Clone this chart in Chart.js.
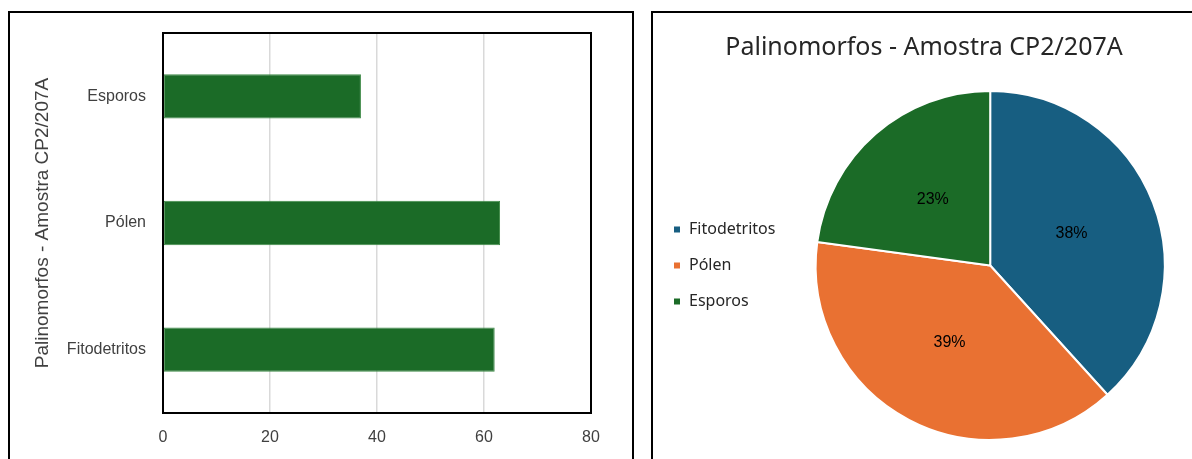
<!DOCTYPE html>
<html lang="pt">
<head>
<meta charset="utf-8">
<title>Palinomorfos - Amostra CP2/207A</title>
<script src="https://cdn.jsdelivr.net/npm/chart.js@4/dist/chart.umd.min.js"></script>
<style>
  html, body { margin: 0; padding: 0; background: #fff; overflow: hidden; }
  body { width: 1192px; height: 459px; position: relative; }
  .panel { position: absolute; border: 2px solid #000; background: #fff; }
  #leftPanel { left: 8px; top: 11px; width: 622px; height: 470px; }
  #rightPanel { left: 651px; top: 11px; width: 560px; height: 470px; }
  .box { position: absolute; left: 0; top: 0; }
  #barBox { width: 622px; height: 446px; }
  #pieBox { width: 542px; height: 446px; }
</style>
</head>
<body>
<div class="panel" id="leftPanel"><div class="box" id="barBox"><canvas id="barChart"></canvas></div></div>
<div class="panel" id="rightPanel"><div class="box" id="pieBox"><canvas id="pieChart"></canvas></div></div>
<script>
// Palynomorph counts for sample CP2/207A
const categories = ['Fitodetritos', 'Pólen', 'Esporos'];
const counts = [62, 63, 37];
const xTicks = [0, 20, 40, 60, 80];
const titleText = 'Palinomorfos - Amostra CP2/207A';

const sliceColors = ['#175e81', '#e97132', '#1b6b27'];
const barColor = '#1b6b27';
const textColor = '#404040';
const axisFont = '"Liberation Sans", Arial, sans-serif';
const uiFont = '"Noto Sans", "Open Sans", sans-serif';

// Black frame around the plot area
const framePlugin = {
  id: 'plotFrame',
  afterDraw(chart) {
    const a = chart.chartArea;
    const ctx = chart.ctx;
    ctx.save();
    ctx.strokeStyle = '#000';
    ctx.lineWidth = 2;
    ctx.strokeRect(a.left, a.top, a.right - a.left, a.bottom - a.top);
    ctx.restore();
  }
};

// Percentage labels centred at half the slice radius
const percentLabels = {
  id: 'percentLabels',
  afterDatasetsDraw(chart) {
    const ds = chart.data.datasets[0];
    const total = ds.data.reduce((s, v) => s + v, 0);
    const ctx = chart.ctx;
    ctx.save();
    ctx.font = '16px ' + axisFont;
    ctx.fillStyle = '#000';
    ctx.textAlign = 'center';
    ctx.textBaseline = 'middle';
    chart.getDatasetMeta(0).data.forEach((arc, i) => {
      const p = arc.tooltipPosition();
      ctx.fillText(Math.round(ds.data[i] / total * 100) + '%', p.x, p.y);
    });
    ctx.restore();
  }
};

new Chart(document.getElementById('barChart'), {
  type: 'bar',
  data: {
    labels: categories,
    datasets: [{
      data: counts,
      backgroundColor: barColor,
      borderColor: '#3f8a48',
      borderWidth: 1,
      borderSkipped: false,
      categoryPercentage: 1,
      barPercentage: 0.35
    }]
  },
  plugins: [framePlugin],
  options: {
    indexAxis: 'y',
    responsive: true,
    maintainAspectRatio: false,
    animation: false,
    layout: { padding: { top: 20, right: 41, bottom: 0, left: 0 } },
    plugins: { legend: { display: false }, tooltip: { enabled: false } },
    scales: {
      x: {
        min: 0,
        max: 80,
        afterBuildTicks(scale) { scale.ticks = xTicks.map(v => ({ value: v })); },
        afterFit(scale) { scale.height = 46; },
        grid: { color: '#d9d9d9', lineWidth: 1.5, drawTicks: false },
        border: { display: false },
        ticks: { color: textColor, padding: 15, font: { family: axisFont, size: 16 } }
      },
      y: {
        reverse: true,
        afterFit(scale) {
          scale.width = 153;
          scale.paddingTop = 0;
          scale.paddingBottom = 0;
        },
        grid: { display: false, drawTicks: false },
        border: { display: false },
        ticks: { color: textColor, padding: 17, font: { family: axisFont, size: 16 } },
        title: {
          display: true,
          text: titleText,
          color: textColor,
          padding: { top: 21, bottom: 0 },
          font: { family: axisFont, size: 19 }
        }
      }
    }
  }
});

new Chart(document.getElementById('pieChart'), {
  type: 'pie',
  data: {
    labels: categories,
    datasets: [{
      data: counts,
      backgroundColor: sliceColors,
      borderColor: '#fff',
      borderWidth: 2
    }]
  },
  plugins: [percentLabels],
  options: {
    responsive: true,
    maintainAspectRatio: false,
    animation: false,
    layout: { padding: { top: 0, right: 0, bottom: 18, left: 0 } },
    plugins: {
      tooltip: { enabled: false },
      title: {
        display: true,
        text: titleText,
        color: '#262626',
        padding: { top: 20, bottom: 27 },
        font: { family: uiFont, size: 25, weight: 'normal' }
      },
      legend: {
        position: 'left',
        align: 'center',
        fullSize: false,
        labels: {
          boxWidth: 8,
          boxHeight: 8,
          padding: 20,
          color: '#262626',
          font: { family: uiFont, size: 16 }
        }
      }
    }
  }
});
</script>
</body>
</html>
